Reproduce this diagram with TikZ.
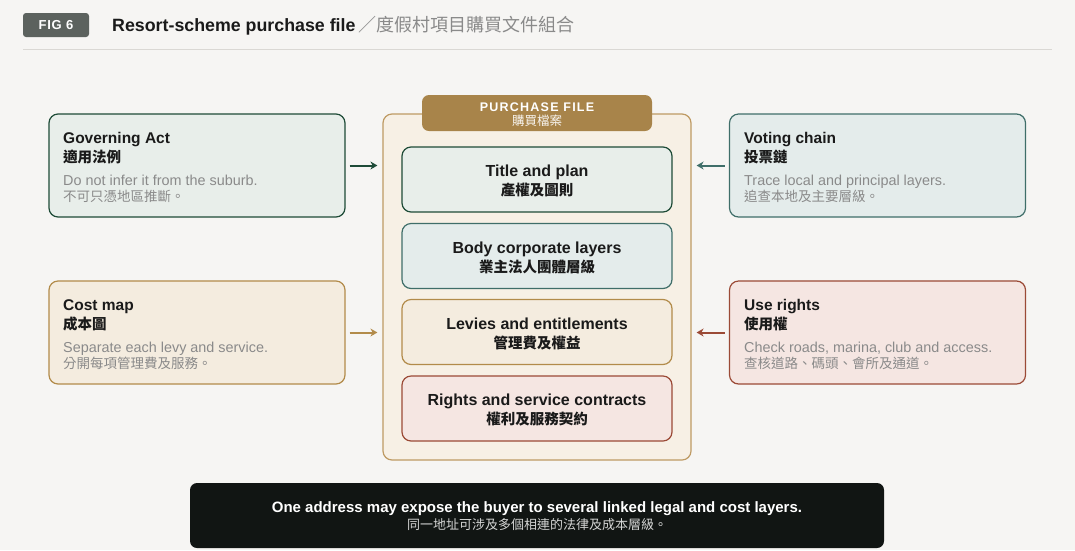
\documentclass[tikz,border=0pt]{standalone}
\usepackage{fontspec}
\setmainfont{Liberation Sans}
\newfontfamily\cjk{Noto Sans CJK TC}
\usetikzlibrary{arrows.meta}
\definecolor{bg}{HTML}{F6F5F3}
\definecolor{tagc}{HTML}{5C625E}
\definecolor{rulec}{HTML}{DAD8D4}
\definecolor{gB}{HTML}{1E4B37}\definecolor{gF}{HTML}{E8EEEA}
\definecolor{tB}{HTML}{3F6E69}\definecolor{tF}{HTML}{E4ECEB}
\definecolor{oB}{HTML}{B28B4A}\definecolor{oF}{HTML}{F4ECDF}
\definecolor{rB}{HTML}{9B4A36}\definecolor{rF}{HTML}{F5E6E2}
\definecolor{cF}{HTML}{F7F0E5}\definecolor{cB}{HTML}{BE9A63}
\definecolor{hdr}{HTML}{A8844A}
\definecolor{ban}{HTML}{111513}
\definecolor{grayt}{HTML}{8A8A8A}
\definecolor{darkt}{HTML}{1A1A1A}
\tikzset{
  box/.style={rectangle, rounded corners=9pt, line width=1.2pt, inner sep=0pt},
  sidebox/.style={box, minimum width=296pt, minimum height=103pt},
  innerbox/.style={box, minimum width=270pt, minimum height=65pt},
  ttl/.style={anchor=base west, inner sep=0pt, text=darkt, font=\fontsize{15.5}{18}\selectfont\bfseries},
  ttlc/.style={anchor=base west, inner sep=0pt, text=darkt, font=\fontsize{14.5}{17}\selectfont\cjk\bfseries},
  dsc/.style={anchor=base west, inner sep=0pt, text=grayt, font=\fontsize{14.4}{16}\selectfont},
  dscc/.style={anchor=base west, inner sep=0pt, text=grayt, font=\fontsize{13.5}{16}\selectfont\cjk},
  itl/.style={anchor=base, inner sep=0pt, text=darkt, font=\fontsize{16}{19}\selectfont\bfseries},
  itlc/.style={anchor=base, inner sep=0pt, text=darkt, font=\fontsize{14.5}{17}\selectfont\cjk\bfseries},
  arr/.style={line width=2pt, -{Stealth[length=7pt,width=8pt]}},
}
\begin{document}
\begin{tikzpicture}[x=1pt,y=-1pt]
\fill[bg] (0,0) rectangle (1075,550);
\useasboundingbox (0,0) rectangle (1075,550);
% header
\node[fill=tagc, rounded corners=3pt, minimum width=66pt, minimum height=24pt, inner sep=0pt, text=white, font=\fontsize{13}{15}\selectfont\bfseries\addfontfeature{LetterSpace=6}] (tag) at (56,25) {FIG 6};
\node[anchor=base west, inner sep=0pt, text=darkt, font=\fontsize{17.8}{20}\selectfont\bfseries] (title) at (112,31) {Resort-scheme purchase file};
\node[anchor=base west, inner sep=0pt, text=grayt, font=\fontsize{18}{20}\selectfont\cjk] (titlec) at (title.base east) {\,／度假村項目購買文件組合};
\draw[rulec, line width=1pt] (23,49) -- (1052,49);
% container
\node[box, fill=cF, draw=cB, minimum width=308pt, minimum height=346pt] (cont) at (537,287) {};
\node[fill=hdr, rounded corners=7pt, minimum width=230pt, minimum height=36pt, inner sep=0pt] (hdr) at (537,113) {};
\node[anchor=base, inner sep=0pt, text=white, font=\fontsize{12.5}{15}\selectfont\bfseries\addfontfeature{LetterSpace=10}] (hdrt) at (537,111) {PURCHASE FILE};
\node[anchor=base, inner sep=0pt, text=white!92!hdr, font=\fontsize{12.5}{14}\selectfont\cjk] (hdrc) at (537,125) {購買檔案};
% inner boxes
\node[innerbox, fill=gF, draw=gB] (b1) at (537,179.5) {};
\node[itl] (b1t) at (537,176) {Title and plan};
\node[itlc] (b1c) at (537,195) {產權及圖則};
\node[innerbox, fill=tF, draw=tB] (b2) at (537,256) {};
\node[itl] (b2t) at (537,253) {Body corporate layers};
\node[itlc] (b2c) at (537,272) {業主法人團體層級};
\node[innerbox, fill=oF, draw=oB] (b3) at (537,332) {};
\node[itl] (b3t) at (537,329) {Levies and entitlements};
\node[itlc] (b3c) at (537,348) {管理費及權益};
\node[innerbox, fill=rF, draw=rB] (b4) at (537,408.5) {};
\node[itl] (b4t) at (537,405) {Rights and service contracts};
\node[itlc] (b4c) at (537,424) {權利及服務契約};
% side boxes
\node[sidebox, fill=gF, draw=gB] (gov) at (197,165.5) {};
\node[ttl] (govt) at (63,143) {Governing Act};
\node[ttlc] (govc) at (63,162) {適用法例};
\node[dsc] (govd) at (63,185) {Do not infer it from the suburb.};
\node[dscc] (govdc) at (63,201) {不可只憑地區推斷。};
\node[sidebox, fill=oF, draw=oB] (cost) at (197,332.5) {};
\node[ttl] (costt) at (63,310) {Cost map};
\node[ttlc] (costc) at (63,329) {成本圖};
\node[dsc] (costd) at (63,352) {Separate each levy and service.};
\node[dscc] (costdc) at (63,368) {分開每項管理費及服務。};
\node[sidebox, fill=tF, draw=tB] (vote) at (877.5,165.5) {};
\node[ttl] (votet) at (744,143) {Voting chain};
\node[ttlc] (votec) at (744,162) {投票鏈};
\node[dsc] (voted) at (744,185) {Trace local and principal layers.};
\node[dscc] (votedc) at (744,201) {追查本地及主要層級。};
\node[sidebox, fill=rF, draw=rB] (use) at (877.5,332.5) {};
\node[ttl] (uset) at (744,310) {Use rights};
\node[ttlc] (usec) at (744,329) {使用權};
\node[dsc] (used) at (744,352) {Check roads, marina, club and access.};
\node[dscc] (usedc) at (744,368) {查核道路、碼頭、會所及通道。};
% arrows
\draw[arr, gB] ([xshift=4pt]gov.east) -- ([xshift=-5pt]gov.east -| cont.west);
\draw[arr, oB] ([xshift=4pt]cost.east) -- ([xshift=-5pt]cost.east -| cont.west);
\draw[arr, tB] ([xshift=-4pt]vote.west) -- ([xshift=5pt]vote.west -| cont.east);
\draw[arr, rB] ([xshift=-4pt]use.west) -- ([xshift=5pt]use.west -| cont.east);
% banner
\node[fill=ban, rounded corners=7pt, minimum width=694pt, minimum height=65pt, inner sep=0pt] (ban) at (537,515.5) {};
\node[anchor=base, inner sep=0pt, text=white, font=\fontsize{15}{18}\selectfont\bfseries] (bant) at (537,512) {One address may expose the buyer to several linked legal and cost layers.};
\node[anchor=base, inner sep=0pt, text=white!82!ban, font=\fontsize{13}{15}\selectfont\cjk] (banc) at (537,529) {同一地址可涉及多個相連的法律及成本層級。};
\end{tikzpicture}
\end{document}
